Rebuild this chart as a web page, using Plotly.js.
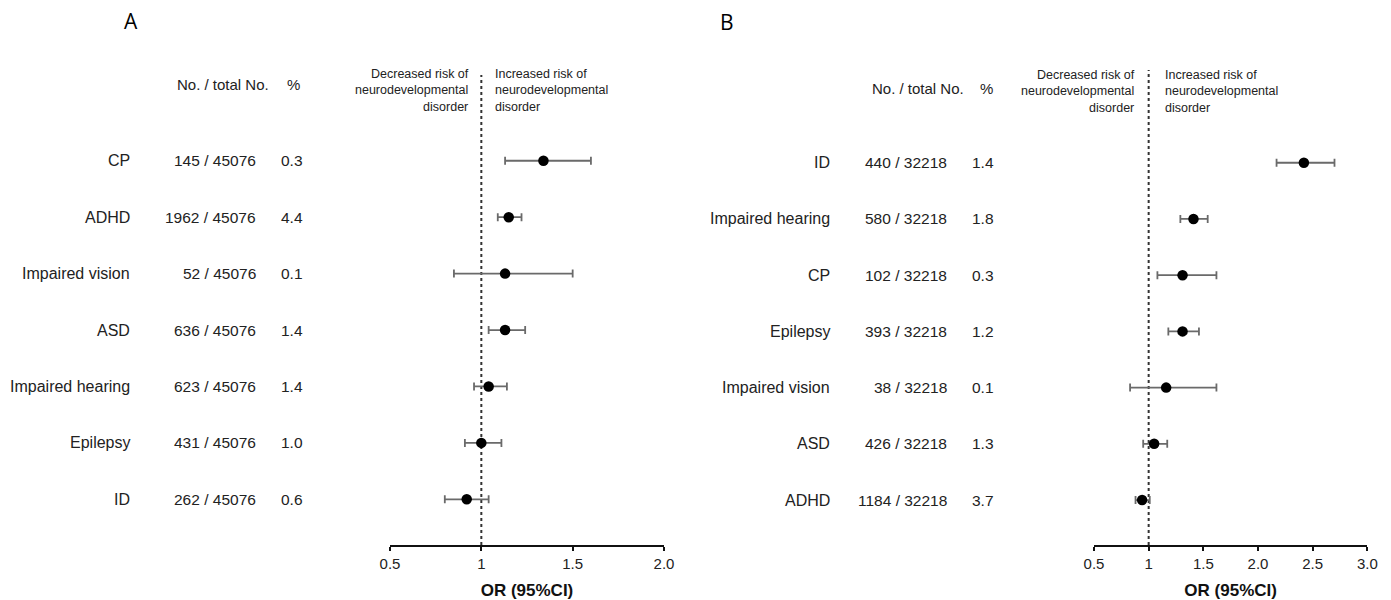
<!DOCTYPE html>
<html>
<head>
<meta charset="utf-8">
<script src="https://cdn.plot.ly/plotly-3.0.1.min.js"></script>
<style>html,body{margin:0;padding:0;background:#fff;} #chart{width:1391px;height:600px;}</style>
</head>
<body>
<div id="chart"></div>
<script>
// ---------- Panel A data ----------
const labelsA = ['CP', 'ADHD', 'Impaired vision', 'ASD', 'Impaired hearing', 'Epilepsy', 'ID'];
const casesA  = [145, 1962, 52, 636, 623, 431, 262];
const totalA  = 45076;
const pctA    = ['0.3', '4.4', '0.1', '1.4', '1.4', '1.0', '0.6'];
const orA     = [1.34, 1.15, 1.13, 1.13, 1.04, 1.00, 0.92];
const loA     = [1.13, 1.09, 0.85, 1.04, 0.96, 0.91, 0.80];
const hiA     = [1.60, 1.22, 1.50, 1.24, 1.14, 1.11, 1.04];
const tickValsA = [0.5, 1, 1.5, 2.0];
const tickTextA = ['0.5', '1', '1.5', '2.0'];

// ---------- Panel B data ----------
const labelsB = ['ID', 'Impaired hearing', 'CP', 'Epilepsy', 'Impaired vision', 'ASD', 'ADHD'];
const casesB  = [440, 580, 102, 393, 38, 426, 1184];
const totalB  = 32218;
const pctB    = ['1.4', '1.8', '0.3', '1.2', '0.1', '1.3', '3.7'];
const orB     = [2.42, 1.41, 1.31, 1.31, 1.16, 1.05, 0.94];
const loB     = [2.17, 1.29, 1.08, 1.18, 0.83, 0.95, 0.88];
const hiB     = [2.70, 1.54, 1.62, 1.46, 1.62, 1.17, 1.01];
const tickValsB = [0.5, 1, 1.5, 2.0, 2.5, 3.0];
const tickTextB = ['0.5', '1', '1.5', '2.0', '2.5', '3.0'];

const headerCount = 'No. / total No.';
const headerPct = '%';
const decLines = ['Decreased risk of', 'neurodevelopmental', 'disorder'];
const incLines = ['Increased risk of', 'neurodevelopmental', 'disorder'];
const axisTitle = 'OR (95%CI)';

const FONT = 'Liberation Sans, Arial, Helvetica, sans-serif';
const W = 1391, H = 600;
const px = v => v / W;
const py = v => 1 - v / H;

function rowsOf(arr) { return arr.map((_, i) => arr.length - i); }

function trace(or, lo, hi, xa, ya) {
  return {
    type: 'scatter', mode: 'markers',
    x: or, y: rowsOf(or), xaxis: xa, yaxis: ya,
    marker: {color: '#000', size: 10.5},
    error_x: {
      type: 'data', symmetric: false,
      array: hi.map((h, i) => h - or[i]),
      arrayminus: lo.map((l, i) => or[i] - l),
      color: '#6a6a6a', thickness: 1.8, width: 4
    },
    hoverinfo: 'skip', showlegend: false
  };
}

const ann = [];
function txt(text, x, y, yref, xanchor, size, extra) {
  ann.push(Object.assign({
    text: text, x: x, y: y, xref: 'paper', yref: yref,
    xanchor: xanchor, yanchor: 'middle', showarrow: false, align: xanchor === 'right' ? 'right' : 'left',
    font: {family: FONT, size: size, color: '#222'}
  }, extra || {}));
}

function panelText(labels, cases, total, pct, yref, lx, cx, pcx) {
  const rows = rowsOf(labels);
  labels.forEach((l, i) => {
    txt(l, px(lx), rows[i], yref, 'right', 16);
    txt(cases[i] + ' / ' + total, px(cx), rows[i], yref, 'right', 15.5);
    txt(pct[i], px(pcx), rows[i], yref, 'right', 15.5);
  });
}

// Panel A texts
panelText(labelsA, casesA, totalA, pctA, 'y', 131.7, 258.3, 305);
txt(headerCount, px(223.3), py(85), 'paper', 'center', 15);
txt(headerPct, px(293.5), py(85), 'paper', 'center', 15);
txt(decLines.join('<br>'), px(471), py(90), 'paper', 'right', 12.5);
txt(incLines.join('<br>'), px(492.7), py(90), 'paper', 'left', 12.5);
txt('A', px(131), py(21), 'paper', 'center', 21, {font: {family: 'Open Sans, Liberation Sans, sans-serif', size: 21, color: '#000'}});

// Panel B texts
panelText(labelsB, casesB, totalB, pctB, 'y2', 831.7, 949, 995.7);
txt(headerCount, px(917.5), py(89), 'paper', 'center', 15);
txt(headerPct, px(986.5), py(89), 'paper', 'center', 15);
txt(decLines.join('<br>'), px(1137), py(91.5), 'paper', 'right', 12.5);
txt(incLines.join('<br>'), px(1162.7), py(91.5), 'paper', 'left', 12.5);
txt('B', px(726.7), py(21.7), 'paper', 'center', 21, {font: {family: 'Open Sans, Liberation Sans, sans-serif', size: 21, color: '#000'}});

function xaxis(domain, range, tv, tt) {
  return {
    domain: domain, range: range, tickvals: tv, ticktext: tt,
    showline: true, linecolor: '#111', linewidth: 2,
    ticks: 'outside', ticklen: 4, tickwidth: 2, tickcolor: '#111',
    showgrid: false, zeroline: false,
    tickfont: {family: FONT, size: 15, color: '#222'},
    title: {text: '<b>' + axisTitle + '</b>', font: {family: FONT, size: 17, color: '#111'}, standoff: 16},
    fixedrange: true
  };
}

const layout = {
  width: W, height: H,
  margin: {l: 0, r: 0, t: 0, b: 0},
  paper_bgcolor: '#fff', plot_bgcolor: 'rgba(0,0,0,0)',
  xaxis: xaxis([px(390), px(664)], [0.5, 2.0], tickValsA, tickTextA),
  xaxis2: xaxis([px(1094), px(1367.3)], [0.5, 3.0], tickValsB, tickTextB),
  yaxis: {domain: [py(545), py(75)], range: [0.19, 8.52], visible: false, fixedrange: true},
  yaxis2: {domain: [py(545), py(70)], range: [0.2, 8.65], visible: false, fixedrange: true, anchor: 'x2'},
  shapes: [
    {type: 'line', xref: 'x', yref: 'y domain', x0: 1, x1: 1, y0: 0, y1: 1, layer: 'below',
     line: {color: '#333', width: 2, dash: 'dot'}},
    {type: 'line', xref: 'x2', yref: 'y2 domain', x0: 1, x1: 1, y0: 0, y1: 1, layer: 'below',
     line: {color: '#333', width: 2, dash: 'dot'}}
  ],
  annotations: ann
};
layout.xaxis2.anchor = 'y2';

Plotly.newPlot('chart', [trace(orA, loA, hiA, 'x', 'y'), trace(orB, loB, hiB, 'x2', 'y2')], layout, {displayModeBar: false, staticPlot: true});
</script>
</body>
</html>
